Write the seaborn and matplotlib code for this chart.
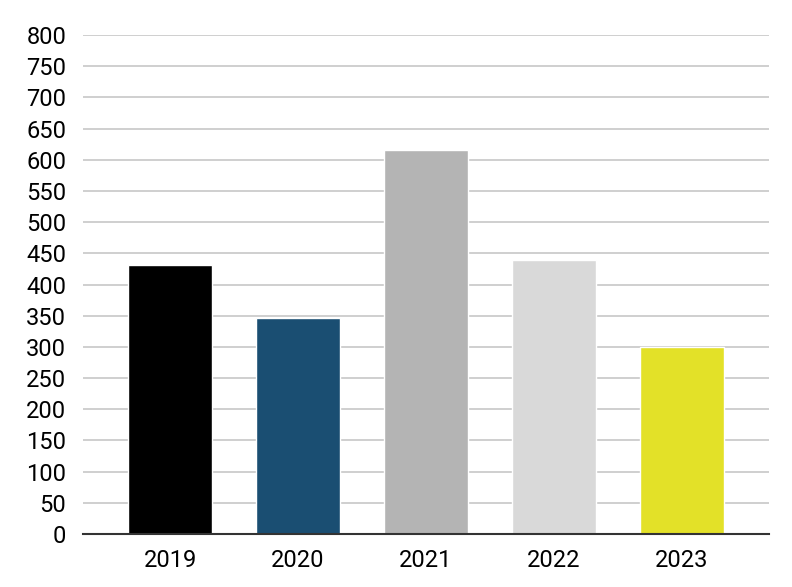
import matplotlib
matplotlib.use('Agg')
import matplotlib.pyplot as plt
import seaborn as sns
import pandas as pd

sns.set_theme(style='white')
plt.rcParams['font.family'] = ['Roboto', 'DejaVu Sans']

# Data
years = ['2019', '2020', '2021', '2022', '2023']
values = [432, 346, 615, 439, 299]
colors = ['#000000', '#1a4e72', '#b4b4b4', '#d9d9d9', '#e3e128']

df = pd.DataFrame({'year': years, 'value': values})

fig = plt.figure(figsize=(7.92, 5.87), dpi=100)
ax = fig.add_axes([83 / 792, (587 - 534) / 587, (769 - 83) / 792, (534 - 35) / 587])

sns.barplot(data=df, x='year', y='value', hue='year', palette=colors,
            width=0.656, legend=False, ax=ax, saturation=1, zorder=3)

ax.set_ylim(0, 800)
ax.set_xlim(-0.68, 4.68)
ax.set_yticks(range(0, 801, 50))
ax.grid(axis='y', color='#cccccc', linewidth=1.3, zorder=0)
ax.set_axisbelow(True)
ax.set_xlabel('')
ax.set_ylabel('')
for s in ['top', 'right', 'left']:
    ax.spines[s].set_visible(False)
ax.spines['bottom'].set_color('#333333')
ax.spines['bottom'].set_linewidth(1.5)
ax.spines['bottom'].set_zorder(4)
ax.tick_params(axis='both', length=0, labelsize=17, colors='#000000')
ax.tick_params(axis='y', pad=12)
ax.tick_params(axis='x', pad=11)

plt.savefig('out.png', dpi=100)
plt.close()
